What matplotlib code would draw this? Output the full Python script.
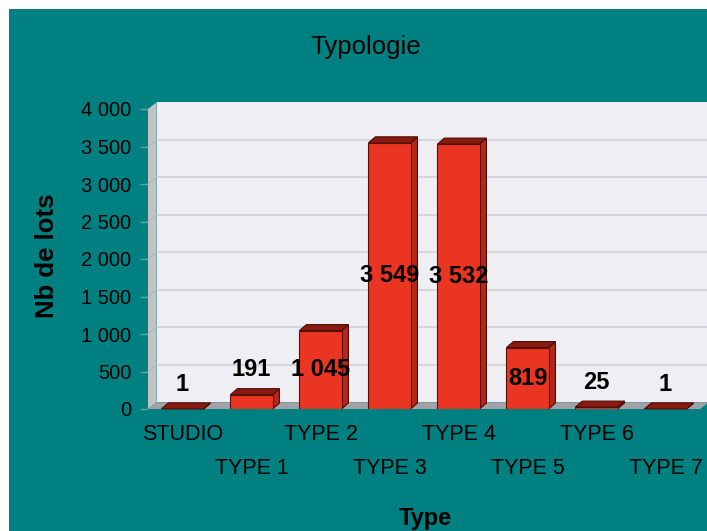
import numpy as np
import matplotlib.pyplot as plt
from matplotlib.patches import Polygon, Rectangle
from matplotlib.ticker import FuncFormatter

plt.rcParams['font.family'] = ['Liberation Sans', 'DejaVu Sans']

# data
types = ['STUDIO', 'TYPE 1', 'TYPE 2', 'TYPE 3', 'TYPE 4', 'TYPE 5', 'TYPE 6', 'TYPE 7']
lots = [1, 191, 1045, 3549, 3532, 819, 25, 1]
yticks = [0, 500, 1000, 1500, 2000, 2500, 3000, 3500, 4000]

teal = '#008080'
W, H = 707, 531
fig = plt.figure(figsize=(W / 100, H / 100), dpi=100, facecolor='white')
fig.patches.append(Rectangle((9 / W, 0), 1 - 9 / W, 1 - 9 / H, transform=fig.transFigure,
                             facecolor=teal, edgecolor='none', zorder=-5))

ax = fig.add_axes([148 / W, 1 - 409 / H, 552 / W, 300 / H])
ax.set_facecolor('none')
ax.set_xlim(-0.5, 7.5)
ax.set_ylim(0, 4000)
for s in ax.spines.values():
    s.set_visible(False)

# depth of the 3d effect (data units)
DX, DY = 0.125, 90
bx, by = 0.10, 80
x0, x1 = -0.5, 7.5
top = yticks[-1]

# walls & floor
ax.add_patch(Rectangle((x0 + DX, DY), x1 - x0, top, facecolor='#efeef3', edgecolor='none',
                       clip_on=False, zorder=1))
ax.add_patch(Polygon([(x0, 0), (x0 + DX, DY), (x0 + DX, top + DY), (x0, top)],
                     facecolor='#c3c3c6', edgecolor='none', clip_on=False, zorder=1))
ax.add_patch(Polygon([(x0, 0), (x1, 0), (x1 + DX, DY), (x0 + DX, DY)],
                     facecolor='#a2a2a6', edgecolor='none', clip_on=False, zorder=1))
for v in yticks[1:-1]:
    ax.plot([x0 + DX, x1 + DX], [v + DY, v + DY], color='#d2d1dc', lw=1.2, clip_on=False, zorder=2)
    ax.plot([x0, x0 + DX], [v, v + DY], color='#b0b0b6', lw=0.8, clip_on=False, zorder=2)

# bars
xs = np.arange(len(types))
bw = 0.61
ax.bar(xs, lots, width=bw, color='#ea3522', edgecolor='#5a1008', linewidth=0.8, zorder=4)
for x, v in zip(xs, lots):
    l, r = x - bw / 2, x + bw / 2
    ax.add_patch(Polygon([(l, v), (r, v), (r + bx, v + by), (l + bx, v + by)],
                         facecolor='#8a1a10', edgecolor='#4a0c06', lw=0.8, zorder=4, clip_on=False))
    ax.add_patch(Polygon([(r, 0), (r + bx, by), (r + bx, v + by), (r, v)],
                         facecolor='#b5271a', edgecolor='#4a0c06', lw=0.8, zorder=3, clip_on=False))
    ly = v / 2 if v > 500 else v + 330
    ax.text(x, ly, f'{v:,}'.replace(',', ' '), ha='center', va='center', fontsize=17,
            fontweight='bold', color='black', zorder=6)

# y axis
ax.set_yticks(yticks)
ax.yaxis.set_major_formatter(FuncFormatter(lambda v, p: f'{int(v):,}'.replace(',', ' ')))
ax.tick_params(axis='y', length=6, width=1, color='#6aa3a6', pad=6, labelsize=14.5)
ax.set_xticks([])

# staggered category labels
for i, t in enumerate(types):
    yy = -25 / 300 if i % 2 == 0 else -59 / 300
    ax.text(xs[i], yy, t, transform=ax.get_xaxis_transform(), ha='center', va='center',
            fontsize=15.5, color='black')

fig.text(366 / W, 1 - 47 / H, 'Typologie', ha='center', va='center', fontsize=18.5)
fig.text(47 / W, 1 - 256 / H, 'Nb de lots', ha='center', va='center', rotation=90,
         fontsize=18.5, fontweight='bold')
fig.text(425 / W, 1 - 519 / H, 'Type', ha='center', va='center', fontsize=17, fontweight='bold')

fig.savefig('out.png', dpi=100, facecolor='white')
